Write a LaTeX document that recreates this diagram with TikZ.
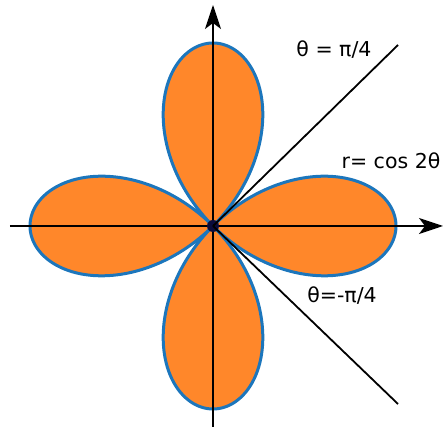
\documentclass[tikz,border=0pt]{standalone}
\usepackage{fontspec}
\setmainfont{DejaVu Sans}
\usetikzlibrary{arrows.meta}
\definecolor{petal}{RGB}{255,135,42}
\definecolor{rim}{RGB}{28,118,188}
\definecolor{dotc}{RGB}{10,12,60}
\tikzset{
  axis/.style={line width=1.8pt, black, -{Stealth[length=24pt,width=16pt,inset=6pt]}},
  ray/.style={line width=1.8pt, black},
  lbl/.style={font=\fontsize{20.5}{24}\selectfont, inner sep=0pt},
}
\begin{document}
\begin{tikzpicture}[x=1pt,y=1pt]
\useasboundingbox (-213,-201) rectangle (231,226);
\fill[petal, draw=rim, line width=3pt, line join=round]
  plot[domain=0:360, samples=721, smooth] ({183*cos(2*\x)*cos(\x)}, {183*cos(2*\x)*sin(\x)}) -- cycle;
\coordinate (xl) at (-203,0);
\coordinate (xr) at (230,0);
\coordinate (yb) at (0,-202);
\coordinate (yt) at (0,221);
\coordinate (d1) at (185,181);
\coordinate (d2) at (185,-178);
\draw[axis] (xl) -- (xr);
\draw[axis] (yb) -- (yt);
\node[circle, fill=dotc, minimum size=12pt, inner sep=0pt] (o) at (0,0) {};
\draw[ray] (o.center) -- (d1);
\draw[ray] (o.center) -- (d2);
\node[lbl] (l1) at (121,176) {θ = π/4};
\node[lbl] (l2) at (178,65) {r= cos 2θ};
\node[lbl] (l3) at (129,-70) {θ=-π/4};
\end{tikzpicture}
\end{document}
